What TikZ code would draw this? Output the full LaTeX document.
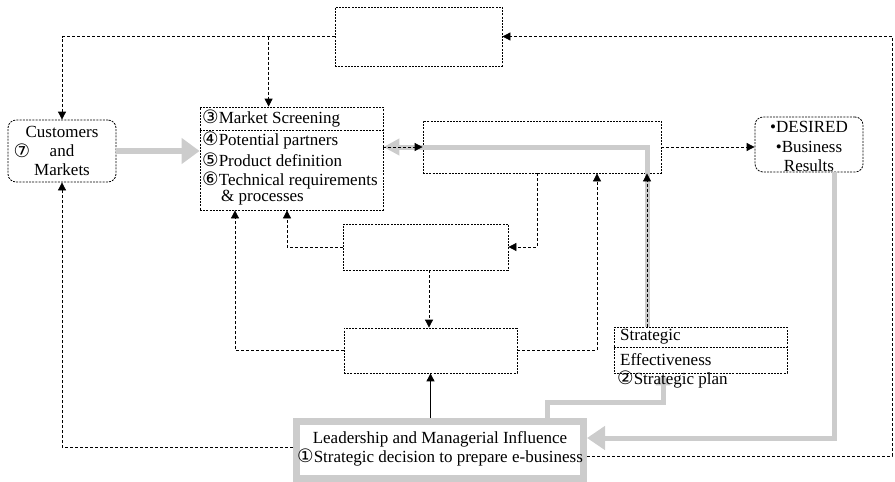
\documentclass[tikz,border=0pt]{standalone}
\usepackage{fontspec}
\setmainfont{Liberation Serif}
\newfontfamily\symfont{DejaVu Sans}
\usetikzlibrary{arrows.meta}
\newcommand\cnum[1]{{\symfont\fontsize{18.5}{18.5}\selectfont #1}}
\begin{document}
\begin{tikzpicture}[x=1pt,y=-1pt,
  font=\fontsize{17}{19}\selectfont,
  box/.style={draw, dash pattern=on 2pt off 1.2pt, line width=0.8pt, inner sep=0pt},
  link/.style={draw, dash pattern=on 3pt off 2pt, line width=0.8pt},
  tip/.style={-{Triangle[length=8pt,width=8pt]}},
  band/.style={draw=gray!40, line width=5pt},
  lbl/.style={inner sep=0pt, anchor=west},
  ctr/.style={inner sep=0pt}]
\useasboundingbox (0,0) rectangle (895,482);

% boxes
\node[box, minimum width=167pt, minimum height=59pt] (tb) at (418.5,36.5) {};
\node[box, rounded corners=8pt, minimum width=108pt, minimum height=62pt] (cust) at (62,151) {};
\node[box, minimum width=183pt, minimum height=103pt] (market) at (291.5,158.5) {};
\node[box, minimum width=238pt, minimum height=52pt] (proc) at (542,147) {};
\node[box, rounded corners=8pt, minimum width=108pt, minimum height=55pt] (desired) at (809,144.5) {};
\node[box, minimum width=165pt, minimum height=46pt] (mb) at (425.5,247) {};
\node[box, minimum width=173pt, minimum height=45pt] (bb) at (430.5,350.5) {};
\node[box, minimum width=173pt, minimum height=46pt] (strat) at (700.5,350) {};
\node[draw=gray!40, line width=7pt, minimum width=287pt, minimum height=57pt, inner sep=0pt] (lead) at (440,450) {};

% dividers
\draw[box] (market.west |- 0,130) -- (market.east |- 0,130);
\draw[box] (strat.west) ++(0,-3) -- ([yshift=3pt]strat.east);

% grey flows
\draw[band, line width=6pt, -{Triangle[length=18pt,width=25pt]}] (cust.east) -- (cust.east -| market.west);
\draw[band, -{Triangle[length=16pt,width=16pt]}] ([xshift=-53.5pt]strat.north) |- (proc.west) -- (market.east |- proc.west);
\draw[band, -{Triangle[length=18pt,width=23pt]}] ([xshift=25pt]desired.south) |- ([yshift=12pt]lead.east);
\draw[band, -{Triangle[length=12pt,width=14pt]}] ([xshift=107pt]lead.north) -- ++(0,-16) -| ([xshift=-37.5pt]strat.south);

% dashed links
\draw[link, tip] (tb.west) -| (cust.north);
\draw[link, tip] ([xshift=69pt]market.north west |- tb.west) -- ([xshift=69pt]market.north west);
\coordinate (rr) at (892,456);
\draw[link, tip] ([yshift=-6pt]lead.east) -- (rr) |- (tb.east);
\draw[link, tip] ([yshift=3pt]lead.west) -| (cust.south);
\draw[link, tip] (market.east |- proc.west) -- (proc.west);
\draw[link, tip] ([xshift=-53.5pt]strat.north) -- ([xshift=-53.5pt]strat.north |- proc.south);
\draw[link, tip] (proc.east) -- (proc.east -| desired.west);
\draw[link, tip] ([xshift=-5pt]proc.south) |- (mb.east);
\draw[link, tip] (mb.west) -| ([xshift=-4.5pt]market.south);
\draw[link, tip] ([xshift=3.5pt]mb.south) -- ([xshift=3.5pt]mb.south |- bb.north);
\draw[link, tip] (bb.west) -| ([xshift=-56.5pt]market.south);
\draw[link, tip] (bb.east) -| ([xshift=55pt]proc.south);
\draw[line width=0.9pt, tip] (bb.south |- lead.north) -- (bb.south);

% texts
\node[ctr] (c1) at (62,132) {Customers};
\node[ctr] (c2) at (62,151) {and};
\node[ctr] (c3) at (22,151) {\cnum{⑦}};
\node[ctr] (c4) at (62,170) {Markets};

\node[lbl] (m1) at (202,119) {\cnum{③}Market Screening};
\node[lbl] (m2) at (202,140) {\cnum{④}Potential partners};
\node[lbl] (m3) at (202,160) {\cnum{⑤}Product definition};
\node[lbl] (m4) at (202,180) {\cnum{⑥}Technical requirements};
\node[lbl] (m5) at (221,198) {\& processes};

\node[ctr] (d1) at (809,127) {•DESIRED};
\node[ctr] (d2) at (809,147) {•Business};
\node[ctr] (d3) at (809,166) {Results};

\node[lbl] (s1) at (620,337) {Strategic};
\node[lbl] (s2) at (620,360) {Effectiveness};
\node[lbl] (s3) at (617,380) {\cnum{②}Strategic plan};

\node[ctr] (l1) at (440,439) {Leadership and Managerial Influence};
\node[ctr] (l2) at (440,457) {\cnum{①}Strategic decision to prepare e-business};
\end{tikzpicture}
\end{document}
